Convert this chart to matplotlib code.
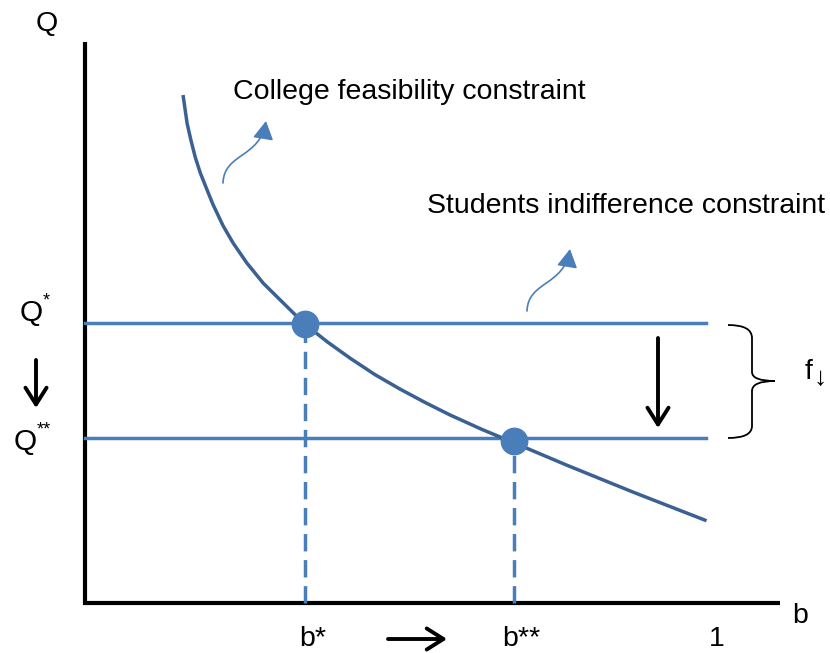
import matplotlib
matplotlib.use('Agg')
import matplotlib.pyplot as plt
from matplotlib.path import Path
from matplotlib.patches import FancyArrowPatch, PathPatch

plt.rcParams['font.family'] = ['Liberation Sans', 'DejaVu Sans']

# college feasibility constraint (b, Q)
curve_b = [0.156, 0.162, 0.168, 0.175, 0.183, 0.194, 0.203, 0.219, 0.235,
           0.257, 0.283, 0.310, 0.337, 0.349, 0.385, 0.421, 0.460, 0.500,
           0.540, 0.579, 0.630, 0.681, 0.765, 0.870, 0.984]
curve_q = [0.904, 0.857, 0.827, 0.796, 0.768, 0.737, 0.712, 0.674, 0.643,
           0.607, 0.571, 0.541, 0.511, 0.498, 0.466, 0.437, 0.408, 0.382,
           0.358, 0.336, 0.310, 0.286, 0.246, 0.198, 0.148]

# students indifference constraints (before / after f goes down)
q_levels = [0.500, 0.295]
q_labels = ['Q', 'Q']
q_stars = ['*', '**']
line_end = 0.986

# equilibrium points
eq_b = [0.349, 0.681]
eq_q = [0.498, 0.290]
b_labels = ['b*', 'b**']

blue = '#4A7EBB'
dark_blue = '#3B6192'


def px(x, y):
    # position on the page (pixels) -> data units
    return (x - 85) / 630, (603 - y) / 560


fig = plt.figure(figsize=(8.3, 6.53), dpi=100)
ax = fig.add_axes([0, 0, 1, 1])
ax.set_xlim(-85 / 630, 745 / 630)
ax.set_ylim(-50 / 560, 603 / 560)
ax.axis('off')

# axes
corner = [px(85, 42), px(85, 603), px(780, 603)]
ax.plot([p[0] for p in corner], [p[1] for p in corner], color='black',
        lw=3, solid_joinstyle='miter', solid_capstyle='butt')

# horizontal constraints
for q in q_levels:
    ax.plot([0, line_end], [q, q], color=blue, lw=2.5)

# dashed drops
for b, q in zip(eq_b, q_levels):
    ax.plot([b, b], [0, q], color=blue, lw=2.5, ls=(0, (5, 2.5)))

# feasibility curve
ax.plot(curve_b, curve_q, color=dark_blue, lw=2.5, solid_joinstyle='round')

# intersection dots
ax.plot(eq_b, eq_q, 'o', color=blue, ms=19, zorder=5)

fs = 20.5
ax.text(*px(233, 92), 'College feasibility constraint', fontsize=fs,
        ha='left', va='center')
ax.text(*px(427, 206), 'Students indifference constraint', fontsize=fs,
        ha='left', va='center')

# axis names
ax.text(*px(47, 24), 'Q', fontsize=fs, ha='center', va='center')
ax.text(*px(800, 616), 'b', fontsize=fs, ha='center', va='center')

# Q*, Q**
q_pos = [(31, 313), (25, 442)]
for (x, y), lab, st in zip(q_pos, q_labels, q_stars):
    ax.text(*px(x, y), lab, fontsize=21.5, ha='center', va='center')
    ax.text(*px(x + 12, y - 12), st, fontsize=13, ha='left', va='center')

# b*, b**, 1
for b, lab in zip(eq_b, b_labels):
    ax.text(b + 0.012, px(0, 639)[1], lab, fontsize=fs, ha='center',
            va='center')
ax.text(*px(717, 639), '1', fontsize=fs, ha='center', va='center')

# black arrows (open heads)
arrow_kw = dict(arrowstyle='->,head_length=0.6,head_width=0.38',
                mutation_scale=20, color='black', lw=2.8,
                shrinkA=0, shrinkB=0)
ax.add_patch(FancyArrowPatch(px(36, 360), px(36, 408), **arrow_kw))
ax.add_patch(FancyArrowPatch(px(658, 338), px(658, 428), **arrow_kw))
ax.add_patch(FancyArrowPatch(px(388, 639), px(447, 639), **arrow_kw))

# curly pointer arrows
for x0, y0 in [(223, 183), (527, 311)]:
    pts = [px(x0, y0), px(x0 + 1, y0 - 30), px(x0 + 37, y0 - 25),
           px(x0 + 43, y0 - 62)]
    path = Path(pts, [Path.MOVETO, Path.CURVE4, Path.CURVE4, Path.CURVE4])
    ax.add_patch(FancyArrowPatch(path=path,
                                 arrowstyle='-|>,head_length=0.8,head_width=0.45',
                                 mutation_scale=14, color=blue, lw=1.2))

# brace
brace_px = [(728, 325), (752, 325), (752, 338), (752, 372), (752, 381),
            (775, 381), (752, 381), (752, 391), (752, 426), (752, 438),
            (728, 438)]
codes = [Path.MOVETO, Path.CURVE3, Path.CURVE3, Path.LINETO, Path.CURVE3,
         Path.CURVE3, Path.CURVE3, Path.CURVE3, Path.LINETO, Path.CURVE3,
         Path.CURVE3]
ax.add_patch(PathPatch(Path([px(*p) for p in brace_px], codes),
                       fill=False, color='black', lw=1.3))
ax.text(*px(809, 372), 'f', fontsize=fs, ha='center', va='center')
ax.text(*px(820, 378), '\u2193', fontsize=19, ha='center', va='center')

fig.savefig('out.png', dpi=100)
